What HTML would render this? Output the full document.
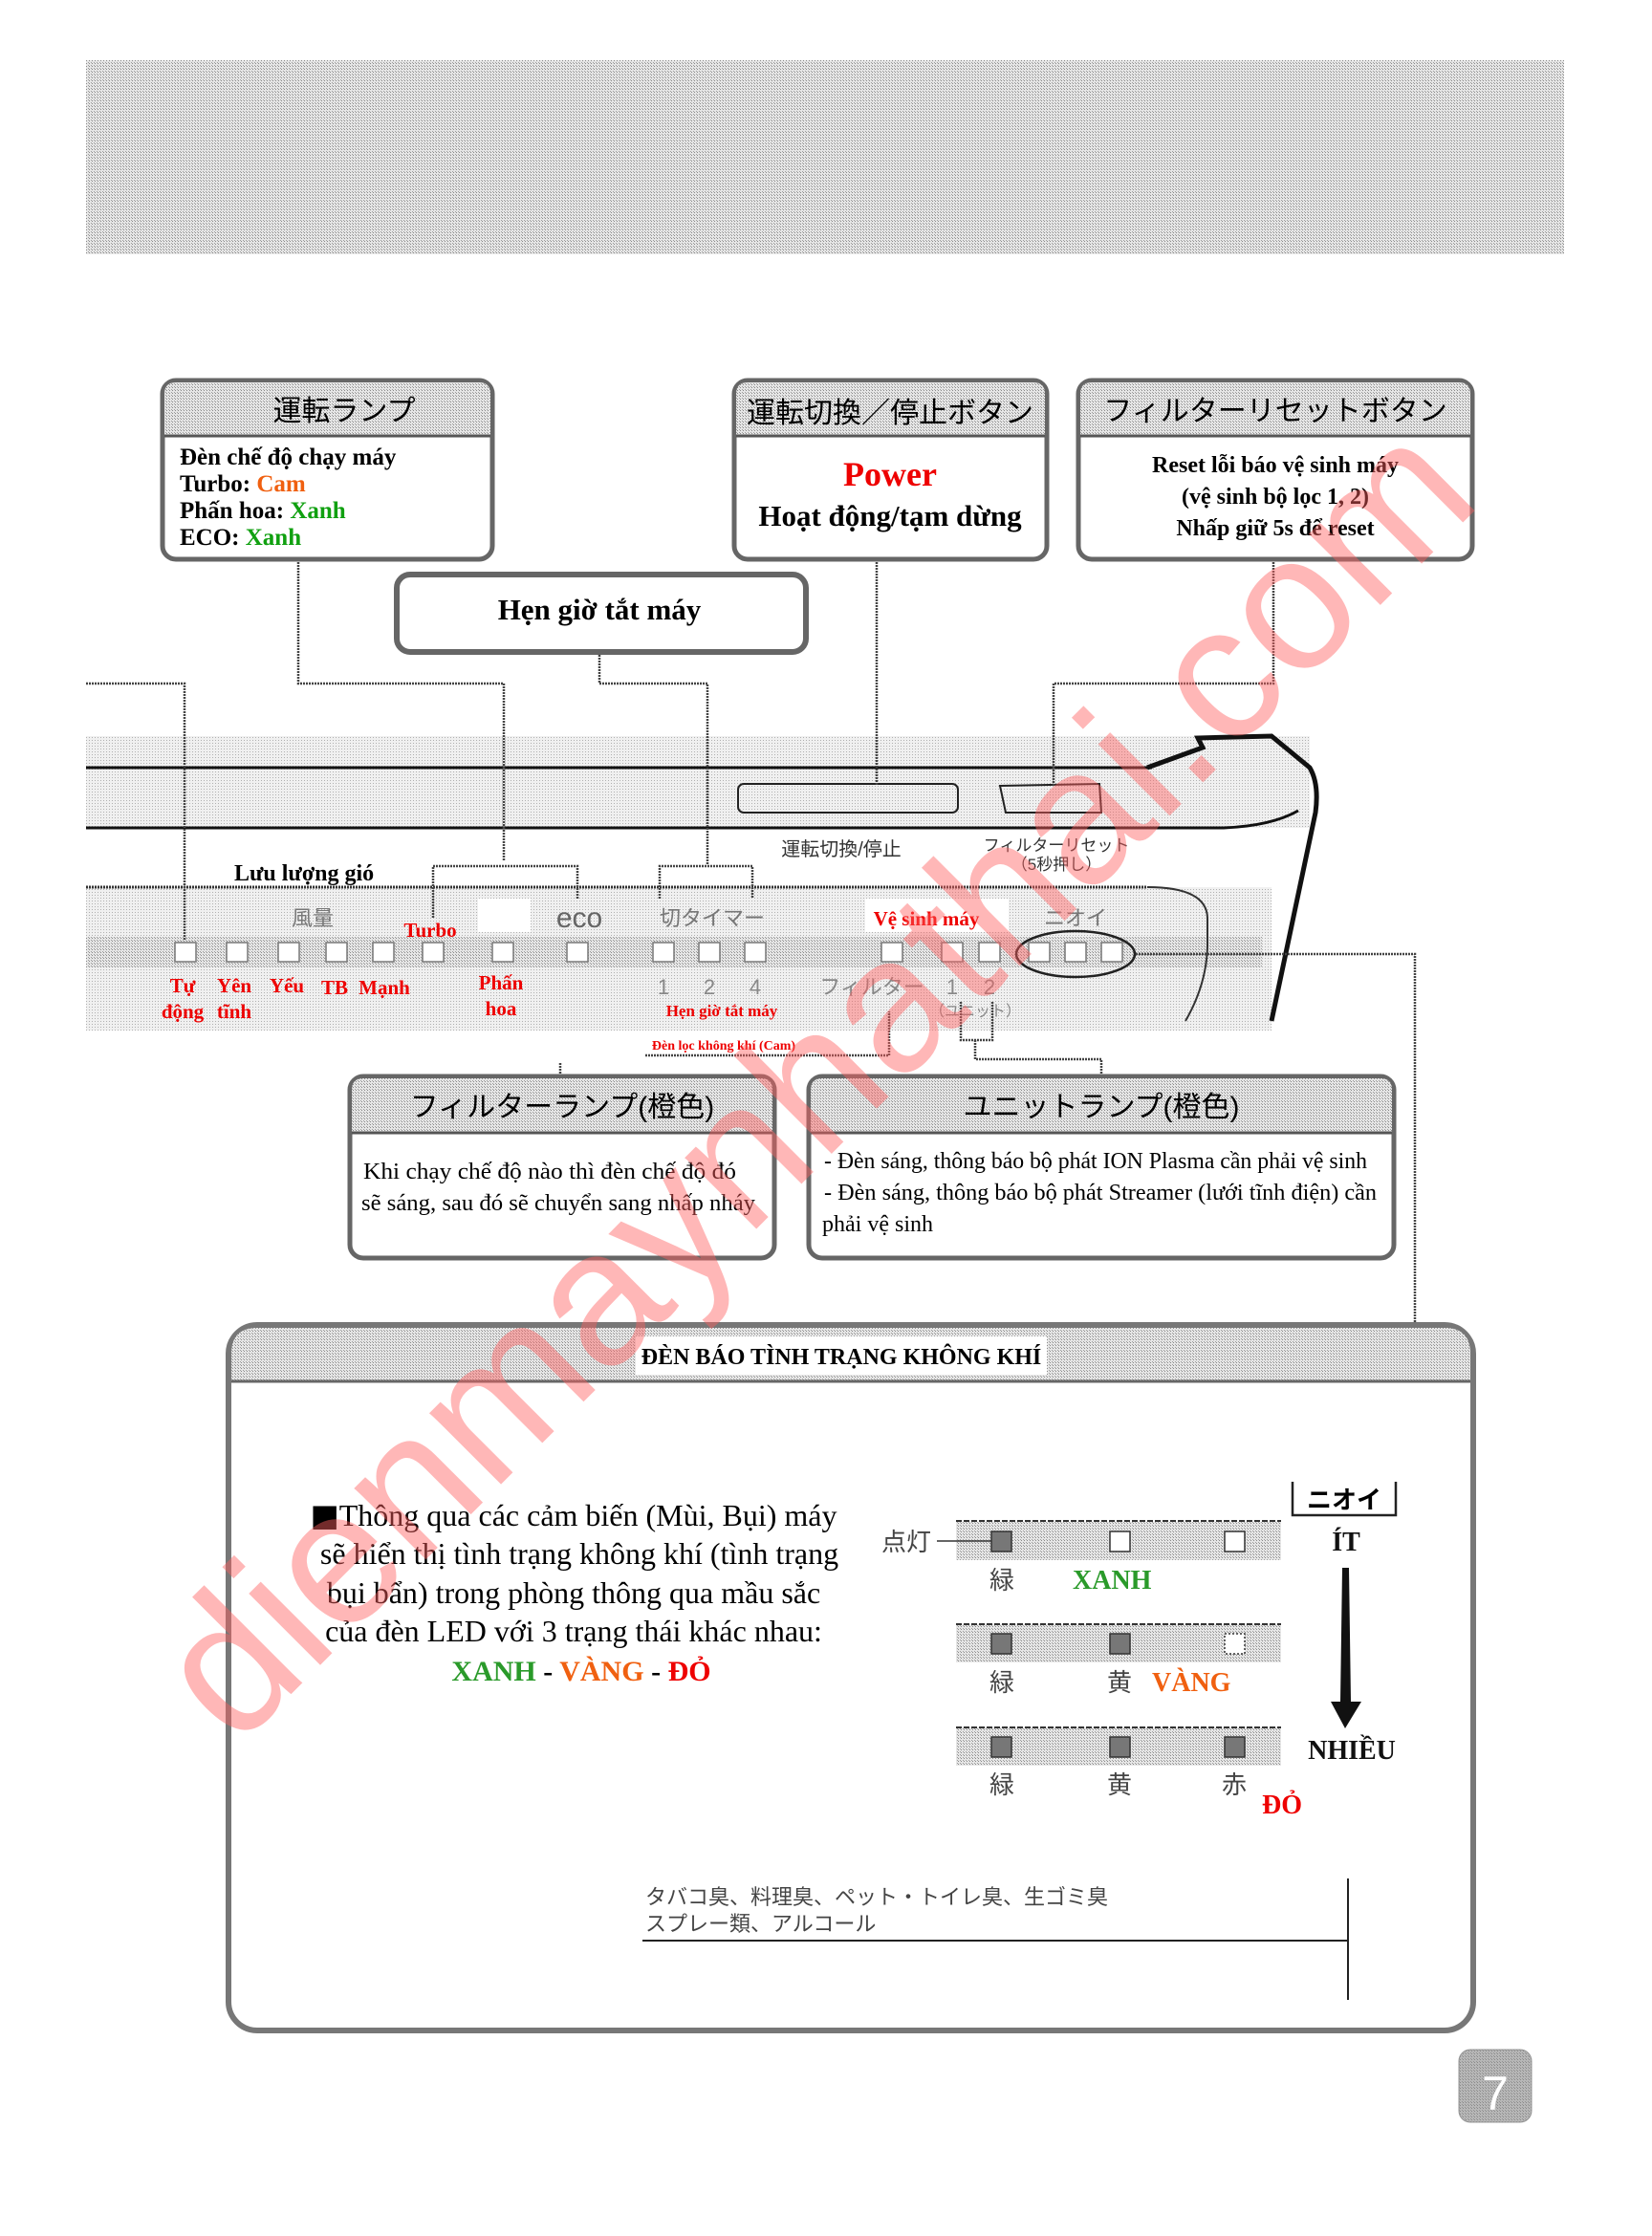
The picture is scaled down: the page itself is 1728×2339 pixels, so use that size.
<!DOCTYPE html>
<html><head><meta charset="utf-8"><style>
html,body{margin:0;padding:0;background:#fff}
svg{display:block}
.s{font-family:"Liberation Serif","Noto Serif CJK SC",serif}
.j{font-family:"Liberation Sans","Noto Sans CJK JP",sans-serif}
</style></head><body>
<svg width="1728" height="2339" viewBox="0 0 1728 2339" xmlns="http://www.w3.org/2000/svg">
<defs>
<pattern id="d" width="3" height="3" patternUnits="userSpaceOnUse"><rect width="3" height="3" fill="#e6e6e6"/><rect width="1" height="1" fill="#8a8a8a"/><rect x="2" y="2" width="1" height="1" fill="#a0a0a0"/></pattern>
<pattern id="dl" width="3" height="3" patternUnits="userSpaceOnUse"><rect width="3" height="3" fill="#f0f0f0"/><rect width="1" height="1" fill="#b0b0b0"/></pattern>
</defs>
<rect x="90" y="63" width="1546" height="203" fill="url(#d)"/>

<rect x="90" y="770" width="1280" height="96" fill="url(#dl)"/>
<rect x="90" y="928" width="1240" height="150" fill="url(#dl)"/>
<rect x="90" y="980" width="1230" height="32" fill="url(#d)"/>
<rect x="500" y="940" width="55" height="35" fill="#fff"/>
<rect x="905" y="940" width="150" height="35" fill="#fff"/>
<line x1="90" y1="803" x2="1205" y2="803" stroke="#111" stroke-width="3"/>
<path d="M1200 803 L1258 782 L1253 772 L1330 770 L1370 803 Q1380 820 1376 850 L1330 1068" fill="none" stroke="#111" stroke-width="5"/>
<path d="M90 866 L1280 866 Q1330 864 1358 848" fill="none" stroke="#111" stroke-width="3"/>
<line x1="90" y1="928" x2="1200" y2="928" stroke="#333" stroke-width="3" stroke-dasharray="2 1"/>
<path d="M1200 928 Q1262 928 1263 960 L1263 990 Q1262 1030 1240 1068" fill="none" stroke="#333" stroke-width="2"/>
<rect x="772" y="820" width="230" height="30" rx="6" fill="none" stroke="#222" stroke-width="2"/>
<path d="M1046 822 L1150 820 L1152 850 L1052 850 Z" fill="none" stroke="#222" stroke-width="2"/>
<text x="880" y="895" class="j" font-size="20" fill="#333" text-anchor="middle">運転切換/停止</text>
<text x="1105" y="890" class="j" font-size="17" fill="#333" text-anchor="middle">フィルターリセット</text>
<text x="1105" y="910" class="j" font-size="17" fill="#333" text-anchor="middle">（5秒押し）</text>
<text x="245" y="921" class="s" font-size="24" font-weight="bold">Lưu lượng gió</text>
<text x="327" y="968" class="j" font-size="22" fill="#777" text-anchor="middle">風量</text>
<text x="450" y="980" class="s" font-size="21" font-weight="bold" fill="#e00" text-anchor="middle">Turbo</text>
<text x="606" y="970" class="j" font-size="30" fill="#666" text-anchor="middle">eco</text>
<text x="745" y="968" class="j" font-size="22" fill="#777" text-anchor="middle">切タイマー</text>
<text x="969" y="968" class="s" font-size="21" font-weight="bold" fill="#e00" text-anchor="middle">Vệ sinh máy</text>
<text x="1125" y="968" class="j" font-size="22" fill="#777" text-anchor="middle">ニオイ</text>
<g fill="#fff" stroke="#777" stroke-width="1.5">
<rect x="183" y="986" width="22" height="20"/><rect x="237" y="986" width="22" height="20"/><rect x="291" y="986" width="22" height="20"/><rect x="341" y="986" width="22" height="20"/><rect x="390" y="986" width="22" height="20"/><rect x="442" y="986" width="22" height="20"/><rect x="515" y="986" width="22" height="20"/><rect x="593" y="986" width="22" height="20"/><rect x="683" y="986" width="22" height="20"/><rect x="731" y="986" width="22" height="20"/><rect x="779" y="986" width="22" height="20"/><rect x="922" y="986" width="22" height="20"/><rect x="985" y="986" width="22" height="20"/><rect x="1024" y="986" width="22" height="20"/><rect x="1076" y="986" width="22" height="20"/><rect x="1114" y="986" width="22" height="20"/><rect x="1152" y="986" width="22" height="20"/>
</g>
<ellipse cx="1125" cy="998" rx="62" ry="24" fill="none" stroke="#222" stroke-width="2.5"/>
<g class="s" font-size="21" font-weight="bold" fill="#e00" text-anchor="middle">
<text x="191" y="1038">Tự</text><text x="191" y="1065">động</text>
<text x="245" y="1038">Yên</text><text x="245" y="1065">tĩnh</text>
<text x="300" y="1038">Yếu</text><text x="350" y="1040">TB</text><text x="402" y="1040">Mạnh</text>
<text x="524" y="1035">Phấn</text><text x="524" y="1062">hoa</text>
<text x="755" y="1063" font-size="17">Hẹn giờ tắt máy</text>
<text x="757" y="1098" font-size="14">Đèn lọc không khí (Cam)</text>
</g>
<g class="j" font-size="22" fill="#888" text-anchor="middle">
<text x="694" y="1040">1</text><text x="742" y="1040">2</text><text x="790" y="1040">4</text>
<text x="912" y="1040">フィルター</text><text x="996" y="1040">1</text><text x="1035" y="1040">2</text>
<text x="1020" y="1063" font-size="16">（ユニット）</text>
</g>

<g fill="none" stroke="#444" stroke-width="2.5" stroke-dasharray="2 1">
<polyline points="312,585 312,715 527,715 527,900"/>
<polyline points="627,682 627,715 740,715 740,905"/>
<line x1="917" y1="585" x2="917" y2="822"/>
<polyline points="1332,585 1332,715 1102,715 1102,822"/>
<polyline points="90,715 193,715 193,983"/>
<polyline points="453,960 453,906 604,906 604,940"/>
<polyline points="690,940 690,906 787,906 787,940"/>
<polyline points="1188,998 1480,998 1480,1385"/>
<polyline points="675,1104 930,1104 930,1058"/>
<polyline points="1005,1048 1005,1088 1038,1088 1038,1048"/>
<polyline points="1020,1088 1020,1108 1152,1108 1152,1126"/>
<line x1="586" y1="1112" x2="586" y2="1126"/>
</g>

<rect x="170" y="398" width="345" height="187" rx="14" fill="#fff" stroke="#666" stroke-width="5"/>
<path d="M172 455 V412 Q172 400 184 400 H501 Q513 400 513 412 V455 Z" fill="url(#d)"/>
<line x1="172" y1="456" x2="513" y2="456" stroke="#555" stroke-width="3"/>
<text x="360" y="440" class="j" font-size="30" text-anchor="middle">運転ランプ</text>
<g class="s" font-size="25" font-weight="bold">
<text x="188" y="486">Đèn chế độ chạy máy</text>
<text x="188" y="514">Turbo: <tspan fill="#f06010">Cam</tspan></text>
<text x="188" y="542">Phấn hoa: <tspan fill="#10a010">Xanh</tspan></text>
<text x="188" y="570">ECO: <tspan fill="#10a010">Xanh</tspan></text>
</g>
<rect x="768" y="398" width="327" height="187" rx="14" fill="#fff" stroke="#666" stroke-width="5"/>
<path d="M770 455 V412 Q770 400 782 400 H1081 Q1093 400 1093 412 V455 Z" fill="url(#d)"/>
<line x1="770" y1="456" x2="1093" y2="456" stroke="#555" stroke-width="3"/>
<text x="931" y="442" class="j" font-size="30" text-anchor="middle">運転切換／停止ボタン</text>
<text x="931" y="508" class="s" font-size="36" font-weight="bold" fill="#e00" text-anchor="middle">Power</text>
<text x="931" y="550" class="s" font-size="31" font-weight="bold" text-anchor="middle">Hoạt động/tạm dừng</text>
<rect x="1128" y="398" width="412" height="187" rx="14" fill="#fff" stroke="#666" stroke-width="5"/>
<path d="M1130 455 V412 Q1130 400 1142 400 H1526 Q1538 400 1538 412 V455 Z" fill="url(#d)"/>
<line x1="1130" y1="456" x2="1538" y2="456" stroke="#555" stroke-width="3"/>
<text x="1334" y="440" class="j" font-size="30" text-anchor="middle">フィルターリセットボタン</text>
<g class="s" font-size="24" font-weight="bold" text-anchor="middle">
<text x="1334" y="494">Reset lỗi báo vệ sinh máy</text>
<text x="1334" y="527">(vệ sinh bộ lọc 1, 2)</text>
<text x="1334" y="560">Nhấp giữ 5s để reset</text>
</g>
<rect x="415" y="601" width="428" height="81" rx="14" fill="#fff" stroke="#666" stroke-width="6"/>
<text x="627" y="648" class="s" font-size="31" font-weight="bold" text-anchor="middle">Hẹn giờ tắt máy</text>

<rect x="366" y="1126" width="444" height="190" rx="14" fill="#fff" stroke="#666" stroke-width="5"/>
<path d="M368 1184 V1140 Q368 1128 380 1128 H796 Q808 1128 808 1140 V1184 Z" fill="url(#d)"/>
<line x1="368" y1="1185" x2="808" y2="1185" stroke="#555" stroke-width="3"/>
<text x="588" y="1168" class="j" font-size="30" text-anchor="middle">フィルターランプ(橙色)</text>
<g class="s" font-size="24"><text x="380" y="1233" textLength="390" lengthAdjust="spacingAndGlyphs">Khi chạy chế độ nào thì đèn chế độ đó</text><text x="378" y="1266" textLength="412" lengthAdjust="spacingAndGlyphs">sẽ sáng, sau đó sẽ chuyển sang nhấp nháy</text></g>
<rect x="846" y="1126" width="612" height="190" rx="14" fill="#fff" stroke="#666" stroke-width="5"/>
<path d="M848 1184 V1140 Q848 1128 860 1128 H1444 Q1456 1128 1456 1140 V1184 Z" fill="url(#d)"/>
<line x1="848" y1="1185" x2="1456" y2="1185" stroke="#555" stroke-width="3"/>
<text x="1152" y="1168" class="j" font-size="30" text-anchor="middle">ユニットランプ(橙色)</text>
<g class="s" font-size="24"><text x="862" y="1222" textLength="568" lengthAdjust="spacingAndGlyphs">- Đèn sáng, thông báo bộ phát ION Plasma cần phải vệ sinh</text><text x="862" y="1255" textLength="578" lengthAdjust="spacingAndGlyphs">- Đèn sáng, thông báo bộ phát Streamer (lưới tĩnh điện) cần</text><text x="860" y="1288">phải vệ sinh</text></g>

<rect x="239" y="1386" width="1302" height="738" rx="30" fill="#fff" stroke="#777" stroke-width="6"/>
<path d="M242 1444 V1416 Q242 1389 269 1389 H1511 Q1538 1389 1538 1416 V1444 Z" fill="url(#d)"/>
<line x1="242" y1="1445" x2="1538" y2="1445" stroke="#666" stroke-width="3"/>
<rect x="665" y="1398" width="430" height="40" fill="#fff"/>
<text x="880" y="1427" class="s" font-size="24" font-weight="bold" text-anchor="middle">ĐÈN BÁO TÌNH TRẠNG KHÔNG KHÍ</text>
<g class="s" font-size="32" text-anchor="middle">
<text x="600" y="1596"><tspan font-family="DejaVu Sans">■</tspan>Thông qua các cảm biến (Mùi, Bụi) máy</text>
<text x="606" y="1636">sẽ hiển thị tình trạng không khí (tình trạng</text>
<text x="600" y="1677">bụi bẩn) trong phòng thông qua mầu sắc</text>
<text x="600" y="1717">của đèn LED với 3 trạng thái khác nhau:</text>
<text x="608" y="1758" font-weight="bold" font-size="30"><tspan fill="#2a9a2a">XANH</tspan> - <tspan fill="#f06010">VÀNG</tspan> - <tspan fill="#e00">ĐỎ</tspan></text>
</g>
<rect x="1000" y="1592" width="340" height="40" fill="url(#d)"/>
<rect x="1000" y="1699" width="340" height="40" fill="url(#d)"/>
<rect x="1000" y="1807" width="340" height="40" fill="url(#d)"/>
<g stroke="#333" stroke-width="2" stroke-dasharray="6 2"><line x1="1000" y1="1591" x2="1340" y2="1591"/><line x1="1000" y1="1699" x2="1340" y2="1699"/><line x1="1000" y1="1807" x2="1340" y2="1807"/></g>
<g stroke="#333" stroke-width="1.5">
<rect x="1037" y="1602" width="21" height="21" fill="#777"/><rect x="1161" y="1602" width="21" height="21" fill="#fff"/><rect x="1281" y="1602" width="21" height="21" fill="#fff"/>
<rect x="1037" y="1709" width="21" height="21" fill="#777"/><rect x="1161" y="1709" width="21" height="21" fill="#777"/><rect x="1281" y="1709" width="21" height="21" fill="#fff" stroke-dasharray="2 2"/>
<rect x="1037" y="1817" width="21" height="21" fill="#777"/><rect x="1161" y="1817" width="21" height="21" fill="#777"/><rect x="1281" y="1817" width="21" height="21" fill="#777"/>
</g>
<line x1="980" y1="1612" x2="1037" y2="1612" stroke="#333" stroke-width="1.5"/>
<text x="948" y="1622" class="j" font-size="26" fill="#444" text-anchor="middle">点灯</text>
<g class="j" font-size="26" fill="#444" text-anchor="middle">
<text x="1048" y="1662">緑</text>
<text x="1048" y="1769">緑</text><text x="1171" y="1769">黄</text>
<text x="1048" y="1876">緑</text><text x="1171" y="1876">黄</text><text x="1291" y="1876">赤</text>
</g>
<g class="s" font-size="28" font-weight="bold">
<text x="1122" y="1662" fill="#2a9a2a">XANH</text>
<text x="1205" y="1769" fill="#f06010">VÀNG</text>
<text x="1320" y="1897" fill="#e00">ĐỎ</text>
<text x="1408" y="1622" text-anchor="middle" fill="#111">ÍT</text>
<text x="1414" y="1840" text-anchor="middle" fill="#111">NHIỀU</text>
</g>
<path d="M1352 1550 V1585 H1460 V1550" fill="none" stroke="#222" stroke-width="2.5"/>
<text x="1406" y="1578" class="j" font-size="26" font-weight="bold" text-anchor="middle">ニオイ</text>
<path d="M1404 1640 L1411 1640 L1413 1780 L1424 1780 L1407 1808 L1392 1780 L1402 1780 Z" fill="#111"/>
<g class="j" font-size="22" fill="#444"><text x="675" y="1992">タバコ臭、料理臭、ペット・トイレ臭、生ゴミ臭</text><text x="675" y="2020">スプレー類、アルコール</text></g>
<line x1="672" y1="2030" x2="1410" y2="2030" stroke="#222" stroke-width="2"/>
<line x1="1410" y1="1965" x2="1410" y2="2092" stroke="#222" stroke-width="2"/>

<rect x="1526" y="2144" width="76" height="76" rx="12" fill="url(#d)" stroke="#999"/>
<rect x="1526" y="2144" width="76" height="76" rx="12" fill="#888" opacity="0.5"/>
<text x="1564" y="2207" class="j" font-size="50" fill="#fff" text-anchor="middle">7</text>

<text x="862" y="1140" transform="rotate(-45 862 1140)" font-family="Liberation Sans, sans-serif" font-size="200" fill="#ff6060" fill-opacity="0.45" text-anchor="middle" dominant-baseline="middle">dienmaynhathai.com</text>
</svg>
</body></html>
